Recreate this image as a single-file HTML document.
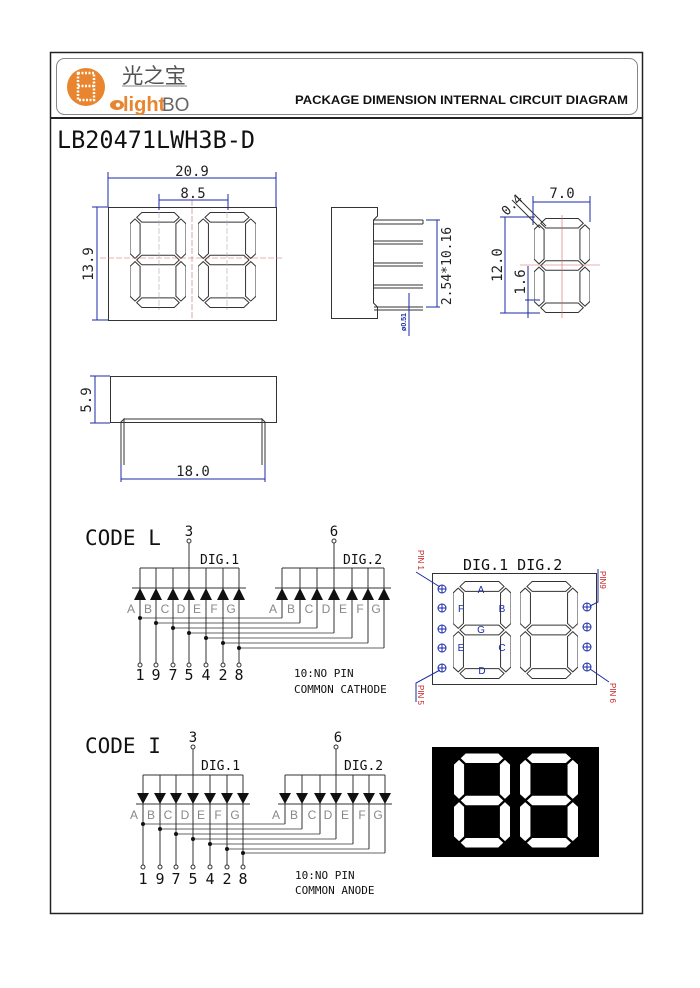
<!DOCTYPE html>
<html><head><meta charset="utf-8"><style>
html,body{margin:0;padding:0;background:#fff}
svg{display:block}
text{font-family:"Liberation Sans","DejaVu Sans",sans-serif}
text.m,.m text{font-family:"DejaVu Sans Mono","Liberation Mono",monospace}
polygon{vector-effect:non-scaling-stroke}
</style></head><body>
<svg width="700" height="988" viewBox="0 0 700 988" xmlns="http://www.w3.org/2000/svg">
<defs>
<symbol id="seg" viewBox="0 0 100 180" preserveAspectRatio="none">
<polygon points="12,10 21,1 79,1 88,10 79,19 21,19"/>
<polygon points="12,90 21,81 79,81 88,90 79,99 21,99"/>
<polygon points="12,170 21,161 79,161 88,170 79,179 21,179"/>
<polygon points="9,13 18,22 18,78 9,87 0,78 0,22"/>
<polygon points="91,13 100,22 100,78 91,87 82,78 82,22"/>
<polygon points="9,93 18,102 18,158 9,167 0,158 0,102"/>
<polygon points="91,93 100,102 100,158 91,167 82,158 82,102"/>
</symbol>
</defs>
<rect width="700" height="988" fill="#fff"/>
<rect x="50.5" y="52.5" width="592" height="861" fill="none" stroke="#222" stroke-width="1.5"/>
<rect x="56.5" y="58.5" width="581" height="56" rx="8" fill="none" stroke="#888" stroke-width="1"/>
<line x1="50" y1="118" x2="643" y2="118" stroke="#222" stroke-width="2"/>
<!-- logo -->
<circle cx="86" cy="87" r="19" fill="#e8852e"/>
<rect x="78" y="73" width="16" height="27" fill="none" stroke="#fff" stroke-width="2.5" stroke-dasharray="2,1.5"/>
<line x1="78" y1="86" x2="94" y2="86" stroke="#fff" stroke-width="2.5" stroke-dasharray="2,1.5"/>
<ellipse cx="117" cy="105" rx="7" ry="5" fill="#e8852e"/>
<circle cx="118" cy="105" r="2.2" fill="#fff"/>
<text x="122" y="83" font-size="21" fill="#555" font-family="'Noto Serif CJK SC','Noto Sans CJK SC',serif" textLength="64" lengthAdjust="spacingAndGlyphs">光之宝</text>
<line x1="122" y1="86" x2="187" y2="86" stroke="#888"/>
<text x="123" y="111" font-size="20" fill="#e8852e" font-weight="bold">light</text>
<text x="162" y="111" font-size="19" fill="#666">BO</text>
<text x="295" y="104" font-size="12" fill="#111" font-weight="bold" textLength="333" lengthAdjust="spacingAndGlyphs">PACKAGE DIMENSION INTERNAL CIRCUIT DIAGRAM</text>
<text x="57" y="148" font-size="24" fill="#111" class="m" textLength="198" lengthAdjust="spacingAndGlyphs">LB20471LWH3B-D</text>

<!-- front view -->
<g stroke="#333" fill="none" stroke-width="1">
<rect x="108.5" y="207.5" width="168" height="113"/>
<use href="#seg" x="130" y="212" width="56" height="96"/>
<use href="#seg" x="198" y="212" width="58" height="96"/>
</g>
<g stroke="#c66" stroke-width="0.6" stroke-dasharray="6,2">
<line x1="100" y1="258" x2="282" y2="258"/><line x1="192" y1="200" x2="192" y2="320"/>
<line x1="159" y1="212" x2="159" y2="310" stroke="#aaa"/><line x1="227" y1="212" x2="227" y2="310" stroke="#aaa"/>
</g>
<g stroke="#1a2aa8" stroke-width="1" fill="none">
<line x1="108" y1="178" x2="276" y2="178"/><line x1="108" y1="172" x2="108" y2="207"/><line x1="276" y1="172" x2="276" y2="207"/>
<line x1="159" y1="200" x2="228" y2="200"/><line x1="159" y1="194" x2="159" y2="210"/><line x1="228" y1="194" x2="228" y2="210"/>
<line x1="97" y1="207" x2="97" y2="320"/><line x1="92" y1="207" x2="108" y2="207"/><line x1="92" y1="320" x2="108" y2="320"/>
</g>
<text x="192" y="176" font-size="14" text-anchor="middle" class="m" fill="#222">20.9</text>
<text x="193" y="198" font-size="14" text-anchor="middle" class="m" fill="#222">8.5</text>
<text transform="translate(93,264) rotate(-90)" font-size="14" text-anchor="middle" class="m" fill="#222">13.9</text>

<!-- side view -->
<g stroke="#333" fill="none" stroke-width="1">
<path d="M331.5 207.5 H377.5 V216 L373.5 220 V303 L377.5 307 V318.5 H331.5 Z"/>
<line x1="374" y1="220" x2="423" y2="220"/><line x1="374" y1="224" x2="423" y2="224"/><line x1="423" y1="220" x2="423" y2="224"/>
<line x1="374" y1="241" x2="423" y2="241"/><line x1="374" y1="244" x2="423" y2="244"/>
<line x1="374" y1="263" x2="423" y2="263"/><line x1="374" y1="266" x2="423" y2="266"/>
<line x1="374" y1="285" x2="423" y2="285"/><line x1="374" y1="288" x2="423" y2="288"/>
<line x1="374" y1="307" x2="423" y2="307"/><line x1="374" y1="310" x2="423" y2="310"/>
</g>
<g stroke="#1a2aa8" stroke-width="1">
<line x1="437" y1="220" x2="437" y2="307"/><line x1="426" y1="220" x2="440" y2="220"/><line x1="426" y1="307" x2="440" y2="307"/>
<line x1="409" y1="293" x2="409" y2="336"/>
</g>
<text transform="translate(451,266) rotate(-90)" font-size="13" text-anchor="middle" class="m" fill="#222">2.54*10.16</text>
<text transform="translate(406,322) rotate(-90)" font-size="7" text-anchor="middle" fill="#1a2aa8" font-weight="bold">ø0.51</text>

<!-- right view -->
<g stroke="#333" fill="none" stroke-width="1">
<use href="#seg" x="534" y="218" width="56" height="95"/>
</g>
<g stroke="#c66" stroke-width="0.6"><line x1="520" y1="265" x2="600" y2="265"/><line x1="562" y1="215" x2="562" y2="318"/></g>
<g stroke="#1a2aa8" stroke-width="1">
<line x1="533" y1="202" x2="590" y2="202"/><line x1="533" y1="196" x2="533" y2="225"/><line x1="590" y1="196" x2="590" y2="222"/>
<line x1="505" y1="217" x2="505" y2="313"/><line x1="500" y1="217" x2="535" y2="217"/><line x1="500" y1="313" x2="540" y2="313"/>
<line x1="528" y1="266" x2="528" y2="318"/><line x1="525" y1="300" x2="540" y2="300"/>
<line x1="512" y1="200" x2="540" y2="228" stroke="#333"/><line x1="518" y1="198" x2="546" y2="226" stroke="#333"/>
</g>
<text transform="translate(515,208) rotate(-45)" font-size="13" text-anchor="middle" class="m" fill="#222">0.4</text>
<text x="562" y="198" font-size="14" text-anchor="middle" class="m" fill="#222">7.0</text>
<text transform="translate(502,265) rotate(-90)" font-size="14" text-anchor="middle" class="m" fill="#222">12.0</text>
<text transform="translate(525,282) rotate(-90)" font-size="14" text-anchor="middle" class="m" fill="#222">1.6</text>

<!-- bottom view -->
<g stroke="#333" fill="none" stroke-width="1">
<rect x="110.5" y="376.5" width="166" height="46"/>
<line x1="124" y1="419" x2="262" y2="419"/>
<path d="M121 465 V422 L124 419 V465 M262 465 V419 L265 422 V465"/>
</g>
<g stroke="#1a2aa8" stroke-width="1">
<line x1="121" y1="479" x2="265" y2="479"/><line x1="121" y1="465" x2="121" y2="482"/><line x1="265" y1="465" x2="265" y2="482"/>
<line x1="95" y1="376" x2="95" y2="423"/><line x1="90" y1="376" x2="110" y2="376"/><line x1="90" y1="423" x2="110" y2="423"/>
</g>
<text x="193" y="476" font-size="14" text-anchor="middle" class="m" fill="#222">18.0</text>
<text transform="translate(91,400) rotate(-90)" font-size="14" text-anchor="middle" class="m" fill="#222">5.9</text>

<!-- CODE L -->
<text x="85" y="545" font-size="21" class="m" fill="#111">CODE L</text>
<g stroke="#333" stroke-width="1" fill="none">
<line x1="140" y1="568" x2="239" y2="568"/><line x1="282" y1="568" x2="384" y2="568"/>
<line x1="189" y1="543" x2="189" y2="568"/><line x1="334" y1="543" x2="334" y2="568"/>
<line x1="132" y1="588" x2="246" y2="588"/><line x1="275" y1="588" x2="391" y2="588"/>
<path d="M140 568V663M156 568V663M173 568V663M189 568V663M206 568V663M223 568V663M239 568V663"/>
<path d="M282 568V618M300 568V623M317 568V628M334 568V633M352 568V638M368 568V643M384 568V648"/>
<path d="M140 618H282M156 623H300M173 628H317M189 633H334M206 638H352M223 643H368M239 648H384" stroke-width="0.8"/>
<circle cx="189" cy="541" r="2"/><circle cx="334" cy="541" r="2"/>
<circle cx="140" cy="665" r="2"/><circle cx="156" cy="665" r="2"/><circle cx="173" cy="665" r="2"/><circle cx="189" cy="665" r="2"/><circle cx="206" cy="665" r="2"/><circle cx="223" cy="665" r="2"/><circle cx="239" cy="665" r="2"/>
</g>
<g fill="#111">
<path d="M134 600H146L140 588ZM150 600H162L156 588ZM167 600H179L173 588ZM183 600H195L189 588ZM200 600H212L206 588ZM217 600H229L223 588ZM233 600H245L239 588Z"/>
<path d="M276 600H288L282 588ZM294 600H306L300 588ZM311 600H323L317 588ZM328 600H340L334 588ZM346 600H358L352 588ZM362 600H374L368 588ZM378 600H390L384 588Z"/>
<circle cx="140" cy="618" r="2"/><circle cx="156" cy="623" r="2"/><circle cx="173" cy="628" r="2"/><circle cx="189" cy="633" r="2"/><circle cx="206" cy="638" r="2"/><circle cx="223" cy="643" r="2"/><circle cx="239" cy="648" r="2"/>
</g>
<g font-size="12" fill="#888" text-anchor="middle">
<text x="131" y="613">A</text><text x="148" y="613">B</text><text x="165" y="613">C</text><text x="181" y="613">D</text><text x="197" y="613">E</text><text x="214" y="613">F</text><text x="231" y="613">G</text>
<text x="273" y="613">A</text><text x="291" y="613">B</text><text x="309" y="613">C</text><text x="326" y="613">D</text><text x="343" y="613">E</text><text x="360" y="613">F</text><text x="376" y="613">G</text>
</g>
<g class="m" fill="#111">
<text x="189" y="536" font-size="14" text-anchor="middle">3</text><text x="334" y="536" font-size="14" text-anchor="middle">6</text>
<text x="200" y="564" font-size="13">DIG.1</text><text x="343" y="564" font-size="13">DIG.2</text>
<g font-size="15" text-anchor="middle"><text x="140" y="680">1</text><text x="156" y="680">9</text><text x="173" y="680">7</text><text x="189" y="680">5</text><text x="206" y="680">4</text><text x="223" y="680">2</text><text x="239" y="680">8</text></g>
<text x="294" y="677" font-size="11">10:NO PIN</text><text x="294" y="693" font-size="11">COMMON CATHODE</text>
</g>

<!-- CODE I -->
<text x="85" y="753" font-size="21" class="m" fill="#111">CODE I</text>
<g stroke="#333" stroke-width="1" fill="none">
<line x1="143" y1="775" x2="243" y2="775"/><line x1="285" y1="775" x2="385" y2="775"/>
<line x1="193" y1="749" x2="193" y2="775"/><line x1="336" y1="749" x2="336" y2="775"/>
<line x1="136" y1="804" x2="250" y2="804"/><line x1="278" y1="804" x2="392" y2="804"/>
<path d="M143 775V865M160 775V865M176 775V865M193 775V865M210 775V865M227 775V865M243 775V865"/>
<path d="M285 775V824M302 775V829M320 775V834M336 775V839M353 775V844M369 775V849M385 775V853"/>
<path d="M143 824H285M160 829H302M176 834H320M193 839H336M210 844H353M227 849H369M243 853H385" stroke-width="0.8"/>
<circle cx="193" cy="747" r="2"/><circle cx="336" cy="747" r="2"/>
<circle cx="143" cy="867" r="2"/><circle cx="160" cy="867" r="2"/><circle cx="176" cy="867" r="2"/><circle cx="193" cy="867" r="2"/><circle cx="210" cy="867" r="2"/><circle cx="227" cy="867" r="2"/><circle cx="243" cy="867" r="2"/>
</g>
<g fill="#111">
<path d="M137 793H149L143 804ZM154 793H166L160 804ZM170 793H182L176 804ZM187 793H199L193 804ZM204 793H216L210 804ZM221 793H233L227 804ZM237 793H249L243 804Z"/>
<path d="M279 793H291L285 804ZM296 793H308L302 804ZM314 793H326L320 804ZM330 793H342L336 804ZM347 793H359L353 804ZM363 793H375L369 804ZM379 793H391L385 804Z"/>
<circle cx="143" cy="824" r="2"/><circle cx="160" cy="829" r="2"/><circle cx="176" cy="834" r="2"/><circle cx="193" cy="839" r="2"/><circle cx="210" cy="844" r="2"/><circle cx="227" cy="849" r="2"/><circle cx="243" cy="853" r="2"/>
</g>
<g font-size="12" fill="#888" text-anchor="middle">
<text x="134" y="819">A</text><text x="151" y="819">B</text><text x="168" y="819">C</text><text x="185" y="819">D</text><text x="201" y="819">E</text><text x="218" y="819">F</text><text x="235" y="819">G</text>
<text x="276" y="819">A</text><text x="294" y="819">B</text><text x="312" y="819">C</text><text x="328" y="819">D</text><text x="345" y="819">E</text><text x="362" y="819">F</text><text x="378" y="819">G</text>
</g>
<g class="m" fill="#111">
<text x="193" y="742" font-size="14" text-anchor="middle">3</text><text x="338" y="742" font-size="14" text-anchor="middle">6</text>
<text x="201" y="770" font-size="13">DIG.1</text><text x="344" y="770" font-size="13">DIG.2</text>
<g font-size="15" text-anchor="middle"><text x="143" y="884">1</text><text x="160" y="884">9</text><text x="176" y="884">7</text><text x="193" y="884">5</text><text x="210" y="884">4</text><text x="227" y="884">2</text><text x="243" y="884">8</text></g>
<text x="295" y="879" font-size="11">10:NO PIN</text><text x="295" y="894" font-size="11">COMMON ANODE</text>
</g>

<!-- pin diagram -->
<text x="463" y="570" font-size="15" class="m" fill="#111">DIG.1 DIG.2</text>
<g stroke="#333" fill="none" stroke-width="1">
<rect x="432.5" y="573.5" width="164" height="111"/>
<use href="#seg" x="453" y="581" width="58" height="98"/>
<use href="#seg" x="520" y="581" width="58" height="98"/>
</g>
<g stroke="#1a2aa8" fill="none" stroke-width="1">
<circle cx="442" cy="589" r="4"/><circle cx="442" cy="608" r="4"/><circle cx="442" cy="629" r="4"/><circle cx="442" cy="648" r="4"/><circle cx="442" cy="668" r="4"/>
<circle cx="587" cy="607" r="4"/><circle cx="587" cy="627" r="4"/><circle cx="587" cy="647" r="4"/><circle cx="587" cy="667" r="4"/>
<path d="M438 589h8M442 585v8M438 608h8M442 604v8M438 629h8M442 625v8M438 648h8M442 644v8M438 668h8M442 664v8"/>
<path d="M583 607h8M587 603v8M583 627h8M587 623v8M583 647h8M587 643v8M583 667h8M587 663v8"/>
<path d="M416 572 L440 587 M598 569 V602 L590 606 M416 702 V683 L440 670 M609 682 L590 669"/>
</g>
<g fill="#1a2aa8" font-size="10" text-anchor="middle">
<text x="481" y="593">A</text><text x="461" y="612">F</text><text x="502" y="612">B</text><text x="481" y="633">G</text><text x="461" y="651">E</text><text x="502" y="651">C</text><text x="482" y="674">D</text>
</g>
<g fill="#c22" font-size="8">
<text transform="translate(418,550) rotate(90)">PIN 1</text>
<text transform="translate(600,571) rotate(90)">PIN9</text>
<text transform="translate(418,685) rotate(90)">PIN 5</text>
<text transform="translate(610,683) rotate(90)">PIN 6</text>
</g>

<!-- black display -->
<rect x="432" y="747" width="167" height="110" fill="#000"/>
<g fill="#fff">
<use href="#seg" x="454" y="753" width="56" height="95"/>
<use href="#seg" x="520" y="753" width="58" height="95"/>
</g>
</svg>
</body></html>
